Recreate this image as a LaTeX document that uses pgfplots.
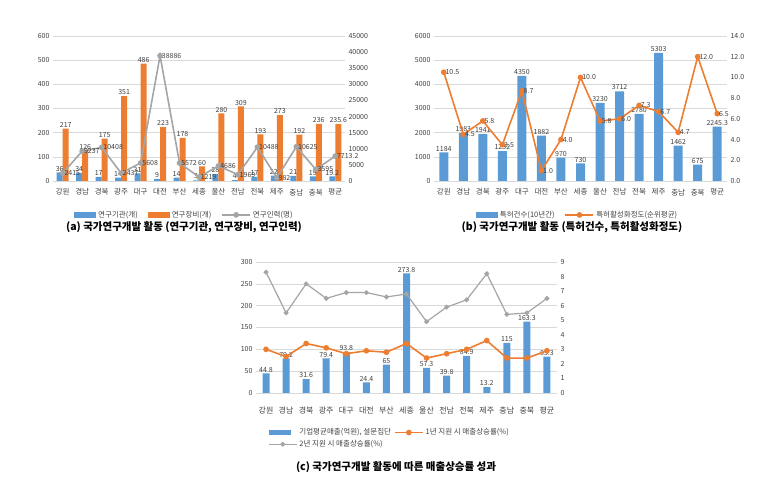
\documentclass[border=0pt]{standalone}
\usepackage{fontspec}
\setmainfont{Noto Sans CJK KR}
\usepackage{pgfplots}
\pgfplotsset{compat=1.18}
\definecolor{cB}{HTML}{5B9BD5}
\definecolor{cO}{HTML}{ED7D31}
\definecolor{cG}{HTML}{A5A5A5}
\definecolor{cT}{HTML}{404040}
\definecolor{cGrid}{HTML}{D9D9D9}
\pgfplotsset{
  excel/.style={scale only axis, xmin=-0.5, xmax=14.5, anchor=south west,
    axis line style={draw=none}, tick style={draw=none},
    ticklabel style={font=\fontsize{7}{8}\selectfont, text=cT},
    /pgf/number format/assume math mode=true,
    /pgf/number format/1000 sep={},
    scaled y ticks=false, clip=false},
  leftax/.style={excel, axis y line*=left, axis x line*=bottom,
    ymajorgrids, grid style={cGrid, line width=0.6pt},
    xtick={0,...,14},
    xticklabels={강원,경남,경북,광주,대구,대전,부산,세종,울산,전남,전북,제주,충남,충북,평균},
    xticklabel style={font=\fontsize{7.5}{8}\selectfont, text=cT}},
  rightax/.style={excel, axis y line*=right, axis x line=none},
  lbl/.style={nodes near coords, point meta=explicit symbolic,
    every node near coord/.append style={font=\fontsize{7}{7}\selectfont, text=cT, inner sep=1pt}},
  barleg/.style={legend image code/.code={\fill[##1, draw=none] (0pt,-2.8pt) rectangle (22pt,2.8pt);}},
  lineleg/.style={legend image code/.code={\draw[mark repeat=2,mark phase=2,##1] plot coordinates {(0pt,0pt) (14pt,0pt) (28pt,0pt)};}},
  legsty/.style={legend style={draw=none, fill=none, font=\fontsize{7.5}{8}\selectfont, text=cT,
    /tikz/every even column/.append style={column sep=8pt}}}
}
\begin{document}
\begin{tikzpicture}
\useasboundingbox (0,0) rectangle (780pt,478pt);
% ---------------- (a) ----------------
\begin{axis}[leftax, at={(53pt,297pt)}, width=292pt, height=145pt,
  ymin=0, ymax=600, ytick={0,100,...,600}, ybar=0pt, bar width=6pt]
\addplot[fill=cB, draw=none, lbl] coordinates {
(0,36)[36] (1,34)[34] (2,17)[17] (3,14)[14] (4,31)[31] (5,9)[9] (6,14)[14] (7,3)[3]
(8,28)[28] (9,4)[4] (10,17)[17] (11,22)[22] (12,21)[21] (13,19)[19] (14,19.2)[19.2]};
\addplot[fill=cO, draw=none, lbl] coordinates {
(0,217)[217] (1,126)[126] (2,175)[175] (3,351)[351] (4,486)[486] (5,223)[223] (6,178)[178] (7,60)[60]
(8,280)[280] (9,309)[309] (10,193)[193] (11,273)[273] (12,192)[192] (13,236)[236] (14,235.6)[235.6]};
\end{axis}
\begin{axis}[rightax, at={(53pt,297pt)}, width=292pt, height=145pt,
  ymin=0, ymax=45000, ytick={0,5000,...,45000}, legsty,
  legend columns=3, legend style={at={(0.45,-0.234)}, anchor=center}]
\addlegendimage{barleg, fill=cB}\addlegendentry{연구기관(개)}
\addlegendimage{barleg, fill=cO}\addlegendentry{연구장비(개)}
\addplot[cG, line width=1.6pt, mark=*, mark size=2pt, lineleg, lbl,
  every node near coord/.append style={anchor=west}] coordinates {
(0,2415)[2415] (1,9237)[9237] (2,10408)[10408] (3,2437)[2437] (4,5608)[5608] (5,38886)[38886] (6,5572)[5572] (7,1219)[1219]
(8,4686)[4686] (9,1969)[1969] (10,10488)[10488] (11,982)[982] (12,10625)[10625] (13,3595)[3595] (14,7713.2)[7713.2]};
\addlegendentry{연구인력(명)}
\end{axis}
\node[font=\fontsize{10.5}{11}\selectfont\bfseries] at (184pt,251pt) {(a) 국가연구개발 활동 (연구기관, 연구장비, 연구인력)};
% ---------------- (b) ----------------
\begin{axis}[leftax, at={(434pt,297pt)}, width=293pt, height=145pt,
  ymin=0, ymax=6000, ytick={0,1000,...,6000}, ybar, bar width=9pt]
\addplot[fill=cB, draw=none, lbl] coordinates {
(0,1184)[1184] (1,1983)[1983] (2,1941)[1941] (3,1232)[1232] (4,4350)[4350] (5,1882)[1882] (6,970)[970] (7,730)[730]
(8,3230)[3230] (9,3712)[3712] (10,2780)[2780] (11,5303)[5303] (12,1462)[1462] (13,675)[675] (14,2245.3)[2245.3]};
\end{axis}
\begin{axis}[rightax, at={(434pt,297pt)}, width=293pt, height=145pt,
  ymin=0, ymax=14, ytick={0,2,...,14},
  yticklabel style={/pgf/number format/.cd, fixed, fixed zerofill, precision=1},
  legsty, legend columns=2, legend style={at={(0.49,-0.234)}, anchor=center}]
\addlegendimage{barleg, fill=cB}\addlegendentry{특허건수(10년간)}
\addplot[cO, line width=1.6pt, mark=*, mark size=2pt, lineleg, lbl,
  every node near coord/.append style={anchor=west}] coordinates {
(0,10.5)[10.5] (1,4.5)[4.5] (2,5.8)[5.8] (3,3.5)[3.5] (4,8.7)[8.7] (5,1.0)[1.0] (6,4.0)[4.0] (7,10.0)[10.0]
(8,5.8)[5.8] (9,6.0)[6.0] (10,7.3)[7.3] (11,6.7)[6.7] (12,4.7)[4.7] (13,12.0)[12.0] (14,6.5)[6.5]};
\addlegendentry{특허활성화정도(순위평균)}
\end{axis}
\node[font=\fontsize{10.5}{11}\selectfont\bfseries] at (572pt,251pt) {(b) 국가연구개발 활동 (특허건수, 특허활성화정도)};
% ---------------- (c) ----------------
\begin{axis}[leftax, at={(256pt,85pt)}, width=301pt, height=131pt,
  ymin=0, ymax=300, ytick={0,50,...,300}, ybar, bar width=7pt,
  xticklabel style={font=\fontsize{8}{8}\selectfont, yshift=-6pt}]
\addplot[fill=cB, draw=none, lbl] coordinates {
(0,44.8)[44.8] (1,79.2)[79.2] (2,31.6)[31.6] (3,79.4)[79.4] (4,93.8)[93.8] (5,24.4)[24.4] (6,65)[65] (7,273.8)[273.8]
(8,57.3)[57.3] (9,39.8)[39.8] (10,84.9)[84.9] (11,13.2)[13.2] (12,115)[115] (13,163.3)[163.3] (14,83.3)[83.3]};
\end{axis}
\begin{axis}[rightax, at={(256pt,85pt)}, width=301pt, height=131pt,
  ymin=0, ymax=9, ytick={0,1,...,9},
  legsty, legend columns=2, legend cell align=left,
  legend style={at={(0.03,-0.24)}, anchor=north west,
    /tikz/every even column/.append style={column sep=1pt}}]
\addlegendimage{barleg, fill=cB}\addlegendentry{기업평균매출(억원), 설문집단}
\addplot[cO, line width=1.6pt, mark=*, mark size=2pt, lineleg] coordinates {
(0,3.0) (1,2.5) (2,3.4) (3,3.1) (4,2.7) (5,2.9) (6,2.8) (7,3.4)
(8,2.4) (9,2.7) (10,3.0) (11,3.6) (12,2.4) (13,2.4) (14,2.9)};
\addlegendentry{1년 지원 시 매출상승률(\%)}
\addplot[cG, line width=1.2pt, mark=*, mark size=1.8pt, lineleg] coordinates {
(0,8.3) (1,5.5) (2,7.5) (3,6.5) (4,6.9) (5,6.9) (6,6.6) (7,6.8)
(8,4.9) (9,5.9) (10,6.4) (11,8.2) (12,5.4) (13,5.5) (14,6.5)};
\addlegendentry{2년 지원 시 매출상승률(\%)}
\end{axis}
\node[font=\fontsize{10.5}{11}\selectfont\bfseries] at (396pt,11pt) {(c) 국가연구개발 활동에 따른 매출상승률 성과};
\end{tikzpicture}
\end{document}
